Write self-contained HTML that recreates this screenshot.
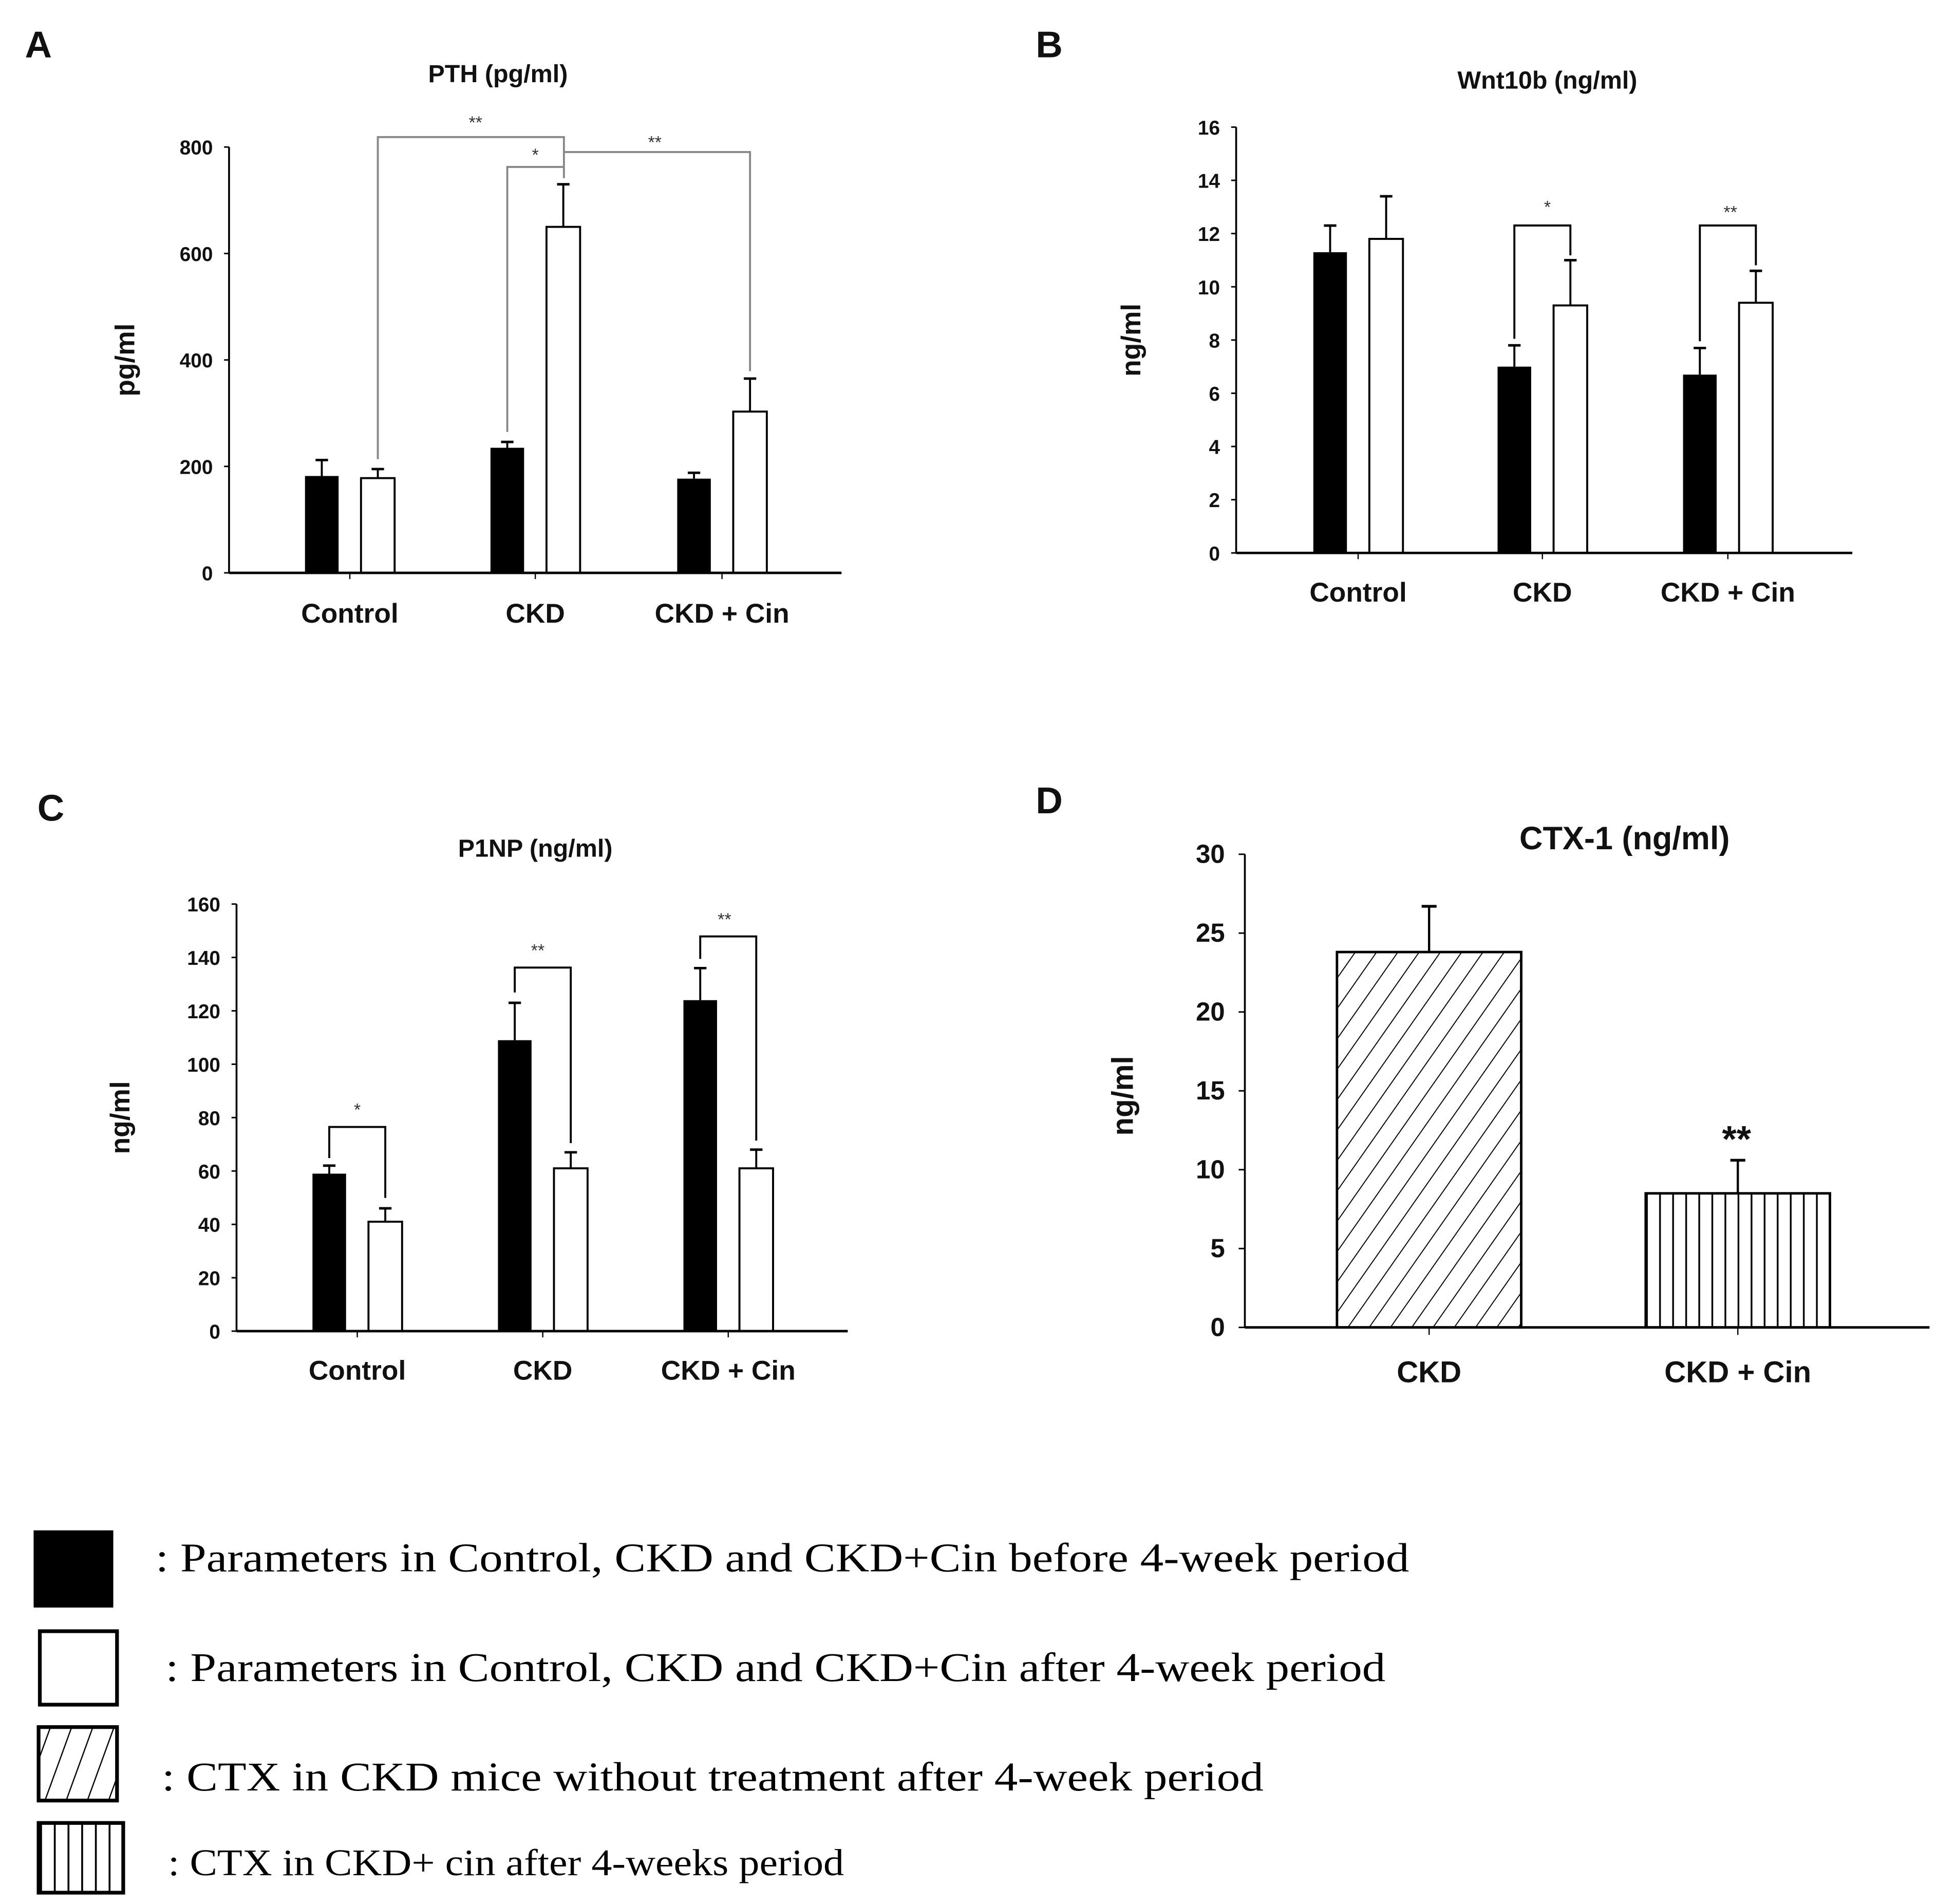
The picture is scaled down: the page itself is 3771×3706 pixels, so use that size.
<!DOCTYPE html>
<html><head><meta charset="utf-8"><style>
html,body{margin:0;padding:0;background:#fff;}
svg{display:block;}
.t{font-family:"Liberation Sans",Arial,sans-serif;font-weight:bold;fill:#111;}
.s{font-family:"Liberation Serif","Times New Roman",serif;fill:#000;}
</style></head><body>
<svg id="fig" width="3771" height="3706" viewBox="0 0 1556 1529" xmlns="http://www.w3.org/2000/svg">
<defs>
<pattern id="diag" patternUnits="userSpaceOnUse" width="14" height="14" patternTransform="rotate(35)"><rect width="14" height="14" fill="#fff"/><line x1="0" y1="0" x2="0" y2="14" stroke="#000" stroke-width="1.6"/></pattern>
<pattern id="vert" patternUnits="userSpaceOnUse" width="10.5" height="10" x="1322"><rect width="10.5" height="10" fill="#fff"/><line x1="1" y1="0" x2="1" y2="10" stroke="#000" stroke-width="1.4"/></pattern>
<pattern id="diagL" patternUnits="userSpaceOnUse" width="16" height="16" patternTransform="rotate(20)"><rect width="16" height="16" fill="#fff"/><line x1="0" y1="0" x2="0" y2="16" stroke="#000" stroke-width="2"/></pattern>
<pattern id="vertL" patternUnits="userSpaceOnUse" width="11" height="10" x="32"><rect width="11" height="10" fill="#fff"/><line x1="1" y1="0" x2="1" y2="10" stroke="#000" stroke-width="1.5"/></pattern>
</defs>
<g id="root"></g>
</svg>
<script>
// ---- data ----
const categories = ["Control", "CKD", "CKD + Cin"];
const pthBefore = [182, 235, 177];
const pthBeforeErr = [30, 11, 11];
const pthAfter = [178, 650, 303];
const pthAfterErr = [17, 80, 62];
const pthTicks = [0, 200, 400, 600, 800];
const wntBefore = [11.3, 7.0, 6.7];
const wntBeforeErr = [1.0, 0.8, 1.0];
const wntAfter = [11.8, 9.3, 9.4];
const wntAfterErr = [1.6, 1.7, 1.2];
const wntTicks = [0, 2, 4, 6, 8, 10, 12, 14, 16];
const p1npBefore = [59, 109, 124];
const p1npBeforeErr = [3, 14, 12];
const p1npAfter = [41, 61, 61];
const p1npAfterErr = [5, 6, 7];
const p1npTicks = [0, 20, 40, 60, 80, 100, 120, 140, 160];
const ctxCategories = ["CKD", "CKD + Cin"];
const ctxValues = [23.8, 8.5];
const ctxErr = [2.9, 2.1];
const ctxTicks = [0, 5, 10, 15, 20, 25, 30];

const NS = "http://www.w3.org/2000/svg";
const root = document.getElementById("root");
function mk(tag, attrs, parent) {
  const e = document.createElementNS(NS, tag);
  for (const k in attrs) e.setAttribute(k, attrs[k]);
  (parent || root).appendChild(e);
  return e;
}
function txt(s, attrs, parent) { const e = mk("text", attrs, parent); e.textContent = s; return e; }

function groupedChart(cfg) {
  const g = mk("g", {});
  
  
  const max = cfg.ticks[cfg.ticks.length - 1];
  const y = v => cfg.y0 - (v / max) * (cfg.y0 - cfg.yTop);
  const centers = cfg.centers;
  const bw = 27, off = 22.5;
  const L = txt(cfg.letter, {x: cfg.letterX, y: cfg.letterY, class: "t", "font-size": 30}, g);
  
  
  const T = txt(cfg.title, {x: cfg.titleX, y: cfg.titleY, class: "t", "font-size": 20, "text-anchor": "middle"}, g);
  
  
  const YL = txt(cfg.ylabel, {x: 0, y: 0, class: "t", "font-size": 22, "text-anchor": "middle", transform: `translate(${cfg.ylabelX},${(cfg.y0 + cfg.yTop) / 2}) rotate(-90)`}, g);
  
  
  const ya = mk("line", {x1: cfg.ax, y1: cfg.yTop, x2: cfg.ax, y2: cfg.y0, stroke: "#000", "stroke-width": 1.5}, g);
  
  
  cfg.ticks.forEach(t => {
    mk("line", {x1: cfg.ax - 4, y1: y(t), x2: cfg.ax, y2: y(t), stroke: "#000", "stroke-width": 1.2}, g);
    const tl = txt(String(t), {x: cfg.ax - 13, y: y(t) + 6, class: "t", "font-size": 16, "text-anchor": "end"}, g);
    
    
  });
  categories.forEach((c, i) => {
    const xb = centers[i] - off - bw / 2;
    const b1 = mk("rect", {x: xb, y: y(cfg.before[i]), width: bw, height: cfg.y0 - y(cfg.before[i]), fill: "#000"}, g);
    
    
    const ex1 = centers[i] - off;
    mk("line", {x1: ex1, y1: y(cfg.before[i]), x2: ex1, y2: y(cfg.before[i] + cfg.beforeErr[i]), stroke: "#000", "stroke-width": 1.6}, g);
    mk("line", {x1: ex1 - 5, y1: y(cfg.before[i] + cfg.beforeErr[i]), x2: ex1 + 5, y2: y(cfg.before[i] + cfg.beforeErr[i]), stroke: "#000", "stroke-width": 2}, g);
    const xa = centers[i] + off - bw / 2;
    const b2 = mk("rect", {x: xa, y: y(cfg.after[i]), width: bw, height: cfg.y0 - y(cfg.after[i]), fill: "#fff", stroke: "#000", "stroke-width": 1.6}, g);
    
    
    const ex2 = centers[i] + off;
    mk("line", {x1: ex2, y1: y(cfg.after[i]), x2: ex2, y2: y(cfg.after[i] + cfg.afterErr[i]), stroke: "#000", "stroke-width": 1.6}, g);
    mk("line", {x1: ex2 - 5, y1: y(cfg.after[i] + cfg.afterErr[i]), x2: ex2 + 5, y2: y(cfg.after[i] + cfg.afterErr[i]), stroke: "#000", "stroke-width": 2}, g);
    mk("line", {x1: centers[i], y1: cfg.y0, x2: centers[i], y2: cfg.y0 + 5, stroke: "#000", "stroke-width": 1}, g);
    const cl = txt(c, {x: centers[i], y: cfg.catY, class: "t", "font-size": 22, "text-anchor": "middle"}, g);
    
    
  });
  const xa = mk("line", {x1: cfg.ax, y1: cfg.y0, x2: cfg.axEnd, y2: cfg.y0, stroke: "#000", "stroke-width": 2}, g);
  
  
  return {g, y, centers, off};
}

function bracket(g, pts, color, label, lx, ly, name) {
  const p = mk("polyline", {points: pts.map(q => q.join(",")).join(" "), fill: "none", stroke: color, "stroke-width": 1.6}, g);
  
  
  const t = txt(label, {x: lx, y: ly, "font-family": "Liberation Sans, sans-serif", "font-size": 14, fill: "#333", "text-anchor": "middle"}, g);
  
  
}

// Panel A
const A = groupedChart({name: "pth-chart", letter: "A", letterX: 20, letterY: 46, title: "PTH (pg/ml)", titleX: 400, titleY: 66,
  ylabel: "pg/ml", ylabelX: 108, ax: 184, axEnd: 676, yTop: 118, y0: 460, centers: [281, 430, 580],
  ticks: pthTicks, before: pthBefore, beforeErr: pthBeforeErr, after: pthAfter, afterErr: pthAfterErr, catY: 500});
{
  const y = A.y, c = A.centers, o = A.off;
  const topCKD = 453;
  bracket(A.g, [[c[0] + o, y(pthAfter[0] + pthAfterErr[0]) - 8], [c[0] + o, 110], [topCKD, 110], [topCKD, 143]], "#888", "**", 382, 103, "bracket-control-ckd");
  bracket(A.g, [[c[1] - o, y(pthBefore[1] + pthBeforeErr[1]) - 8], [c[1] - o, 134], [topCKD, 134]], "#888", "*", 430, 129, "bracket-ckd-before-after");
  bracket(A.g, [[topCKD, 122], [c[2] + o, 122], [c[2] + o, 298]], "#888", "**", 526, 119, "bracket-ckd-cin");
}
// Panel B
const B = groupedChart({name: "wnt10b-chart", letter: "B", letterX: 832, letterY: 46, title: "Wnt10b (ng/ml)", titleX: 1243, titleY: 71,
  ylabel: "ng/ml", ylabelX: 916, ax: 993, axEnd: 1488, yTop: 102, y0: 444, centers: [1091, 1239, 1388],
  ticks: wntTicks, before: wntBefore, beforeErr: wntBeforeErr, after: wntAfter, afterErr: wntAfterErr, catY: 483});
{
  const c = B.centers, o = B.off;
  bracket(B.g, [[c[1] - o, 272], [c[1] - o, 181], [c[1] + o, 181], [c[1] + o, 205]], "#000", "*", c[1] + 4, 171, "bracket-ckd");
  bracket(B.g, [[c[2] - o, 274], [c[2] - o, 181], [c[2] + o, 181], [c[2] + o, 213]], "#000", "**", c[2] + 2, 175, "bracket-ckd-cin");
}
// Panel C
const C = groupedChart({name: "p1np-chart", letter: "C", letterX: 30, letterY: 659, title: "P1NP (ng/ml)", titleX: 430, titleY: 688,
  ylabel: "ng/ml", ylabelX: 104, ax: 190, axEnd: 681, yTop: 726, y0: 1069, centers: [287, 436, 585],
  ticks: p1npTicks, before: p1npBefore, beforeErr: p1npBeforeErr, after: p1npAfter, afterErr: p1npAfterErr, catY: 1108});
{
  const c = C.centers, o = C.off;
  bracket(C.g, [[c[0] - o, 930], [c[0] - o, 905], [c[0] + o, 905], [c[0] + o, 962]], "#000", "*", c[0], 896, "bracket-control");
  bracket(C.g, [[c[1] - o, 797], [c[1] - o, 777], [c[1] + o, 777], [c[1] + o, 918]], "#000", "**", c[1] - 4, 768, "bracket-ckd");
  bracket(C.g, [[c[2] - o, 770], [c[2] - o, 752], [c[2] + o, 752], [c[2] + o, 916]], "#000", "**", c[2] - 3, 743, "bracket-ckd-cin");
}
// Panel D
{
  const g = mk("g", {});
  
  
  const ax = 1000, yTop = 686, y0 = 1066, axEnd = 1550;
  const max = ctxTicks[ctxTicks.length - 1];
  const y = v => y0 - (v / max) * (y0 - yTop);
  const centers = [1148, 1396], bw = 148;
  const L = txt("D", {x: 832, y: 653, class: "t", "font-size": 30}, g);
  
  
  const T = txt("CTX-1 (ng/ml)", {x: 1305, y: 682, class: "t", "font-size": 26, "text-anchor": "middle"}, g);
  
  
  const YL = txt("ng/ml", {x: 0, y: 0, class: "t", "font-size": 24, "text-anchor": "middle", transform: `translate(910,${(y0 + yTop) / 2 + 4}) rotate(-90)`}, g);
  
  
  const ya = mk("line", {x1: ax, y1: yTop, x2: ax, y2: y0, stroke: "#000", "stroke-width": 1.5}, g);
  
  
  ctxTicks.forEach(t => {
    mk("line", {x1: ax - 5, y1: y(t), x2: ax, y2: y(t), stroke: "#000", "stroke-width": 1.2}, g);
    const tl = txt(String(t), {x: ax - 16, y: y(t) + 7, class: "t", "font-size": 21, "text-anchor": "end"}, g);
    
    
  });
  const fills = ["url(#diag)", "url(#vert)"];
  ctxCategories.forEach((c, i) => {
    const b = mk("rect", {x: centers[i] - bw / 2, y: y(ctxValues[i]), width: bw, height: y0 - y(ctxValues[i]), fill: fills[i], stroke: "#000", "stroke-width": 2}, g);
    
    
    mk("line", {x1: centers[i], y1: y(ctxValues[i]), x2: centers[i], y2: y(ctxValues[i] + ctxErr[i]), stroke: "#000", "stroke-width": 1.8}, g);
    mk("line", {x1: centers[i] - 6, y1: y(ctxValues[i] + ctxErr[i]), x2: centers[i] + 6, y2: y(ctxValues[i] + ctxErr[i]), stroke: "#000", "stroke-width": 2.2}, g);
    mk("line", {x1: centers[i], y1: y0, x2: centers[i], y2: y0 + 6, stroke: "#000", "stroke-width": 1}, g);
    const cl = txt(c, {x: centers[i], y: 1110, class: "t", "font-size": 24, "text-anchor": "middle"}, g);
    
    
  });
  const st = txt("**", {x: 1395, y: 925, class: "t", "font-size": 30, "text-anchor": "middle"}, g);
  
  
  const xa = mk("line", {x1: ax, y1: y0, x2: axEnd, y2: y0, stroke: "#000", "stroke-width": 2}, g);
  
  
}
// Legend
{
  const g = mk("g", {});
  
  
  const r1 = mk("rect", {x: 27, y: 1229, width: 64, height: 62, fill: "#000"}, g);
  
  
  const r2 = mk("rect", {x: 32, y: 1310, width: 62, height: 59, fill: "#fff", stroke: "#000", "stroke-width": 3}, g);
  
  
  const r3 = mk("rect", {x: 31, y: 1387, width: 63, height: 59, fill: "url(#diagL)", stroke: "#000", "stroke-width": 3}, g);
  
  
  const r4 = mk("rect", {x: 31, y: 1464, width: 68, height: 56, fill: "url(#vertL)", stroke: "#000", "stroke-width": 3}, g);
  
  
  const lines = [
    [": Parameters in Control, CKD and CKD+Cin before 4-week period", 125, 1262, 1007, 33],
    [": Parameters in Control, CKD and CKD+Cin after 4-week period", 133, 1350, 980, 33],
    [": CTX in CKD mice without treatment after 4-week period", 130, 1438, 885, 33],
    [": CTX in CKD+ cin after 4-weeks period", 135, 1506, 543, 30]
  ];
  lines.forEach(l => {
    const t = txt(l[0], {x: l[1], y: l[2], class: "s", "font-size": l[4], textLength: l[3], lengthAdjust: "spacingAndGlyphs"}, g);
    
    
  });
}
</script>
</body></html>
